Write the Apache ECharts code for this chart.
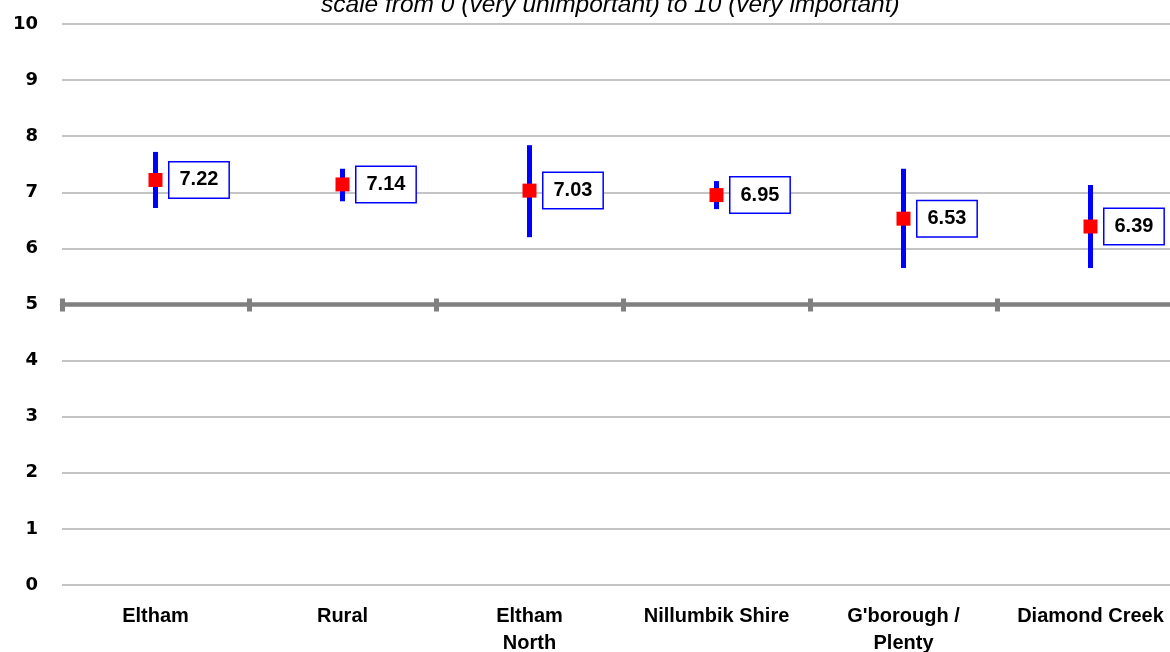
<!DOCTYPE html>
<html>
<head>
<meta charset="utf-8">
<script src="https://cdn.jsdelivr.net/npm/echarts@6/dist/echarts.min.js"></script>
<style>html,body{margin:0;padding:0;background:#fff;}#c{width:1170px;height:652px;}</style>
</head>
<body>
<div id="c"></div>
<script>
const categories = ['Eltham', 'Rural', 'Eltham\nNorth', 'Nillumbik Shire', "G'borough /\nPlenty", 'Diamond Creek'];
const means = [7.22, 7.14, 7.03, 6.95, 6.53, 6.39];
const lower = [6.72, 6.84, 6.20, 6.70, 5.65, 5.65];
const upper = [7.72, 7.42, 7.84, 7.20, 7.42, 7.13];
const yTicks = [0, 10, 1];
const titleText = 'scale from 0 (very unimportant) to 10 (very important)';

const chart = echarts.init(document.getElementById('c'), null, {renderer: 'canvas'});
const gridBottom = 67, gridTop = 24, H = 652;
const halfOffset = -((H - gridTop - gridBottom) / 2);

const hiddenAxis = (extra) => Object.assign({
  type: 'category', data: categories, position: 'bottom', offset: halfOffset,
  axisLabel: {show: false}, splitLine: {show: false},
  axisLine: {show: false}
}, extra);

chart.setOption({
  animation: false,
  backgroundColor: '#ffffff',
  title: {
    text: titleText, left: 316, top: -12,
    textStyle: {fontFamily: 'Liberation Sans', fontStyle: 'italic', fontWeight: 'normal', fontSize: 24.5, color: '#000'}
  },
  grid: {left: 62, width: 1122, top: gridTop, bottom: gridBottom, containLabel: false, outerBoundsMode: 'none'},
  xAxis: [
    {
      type: 'category', data: categories, position: 'bottom',
      axisLine: {show: false}, axisTick: {show: false}, splitLine: {show: false},
      axisLabel: {margin: 18, color: '#000', fontFamily: 'Liberation Sans', fontWeight: 'bold', fontSize: 20, lineHeight: 27, interval: 0}
    },
    hiddenAxis({
      axisLine: {show: true, lineStyle: {color: '#808080', width: 4.5}},
      axisTick: {show: true, inside: false, length: 7, lineStyle: {color: '#808080', width: 5}}
    }),
    hiddenAxis({
      axisTick: {show: true, inside: true, length: 6, lineStyle: {color: '#808080', width: 5}}
    })
  ],
  yAxis: {
    type: 'value', min: yTicks[0], max: yTicks[1], interval: yTicks[2],
    axisLine: {show: false}, axisTick: {show: false},
    splitLine: {lineStyle: {color: '#c4c4c4', width: 2}},
    axisLabel: {margin: 24, color: '#000', fontFamily: 'DejaVu Sans', fontWeight: 'bold', fontSize: 18}
  },
  series: [
    {
      type: 'custom',
      xAxisIndex: 0,
      data: categories.map((c, i) => [i, lower[i], upper[i]]),
      renderItem: function (params, api) {
        const lo = api.coord([api.value(0), api.value(1)]);
        const hi = api.coord([api.value(0), api.value(2)]);
        return {
          type: 'line',
          shape: {x1: lo[0], y1: lo[1], x2: hi[0], y2: hi[1]},
          style: {stroke: '#0000ff', lineWidth: 5}
        };
      },
      z: 3
    },
    {
      type: 'scatter',
      xAxisIndex: 0,
      data: means.map((v, i) => [i, v]),
      symbol: 'rect', symbolSize: 14,
      itemStyle: {color: '#ff0000', opacity: 1},
      z: 4,
      label: {
        show: true, position: 'right', distance: 7,
        formatter: p => p.value[1].toFixed(2),
        color: '#000000', opacity: 1, fontFamily: 'Liberation Sans', fontWeight: 'bold', fontSize: 20, lineHeight: 24,
        backgroundColor: '#ffffff', borderColor: '#0000ff', borderWidth: 1.5,
        padding: [6, 10, 5, 10]
      }
    }
  ]
});
</script>
</body>
</html>
